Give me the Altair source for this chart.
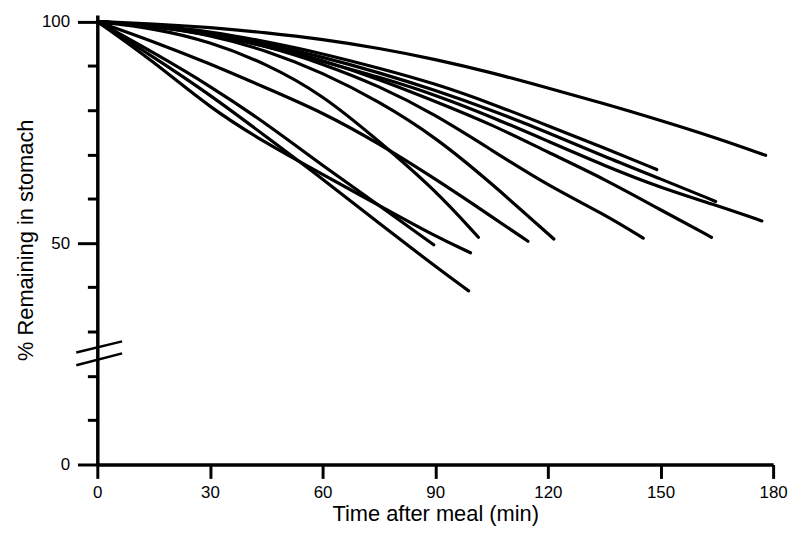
import altair as alt
import pandas as pd

# Time (min) and % remaining for each of the 12 emptying curves
t1 = [0, 15, 30, 45, 60, 75, 90, 105, 120, 135, 150, 165, 178]
v1 = [100, 99.5, 98.7, 97.5, 96, 94, 91.5, 88.5, 85, 81.5, 77.7, 73.7, 69.8]
t2 = [0, 15, 30, 45, 60, 75, 90, 105, 120, 135, 149]
v2 = [100, 99.2, 97.8, 95.5, 92.8, 89.5, 86, 81.5, 76.5, 71.5, 66.6]
t3 = [0, 15, 30, 45, 60, 75, 90, 105, 120, 135, 150, 164.7]
v3 = [100, 99, 97.3, 95, 92, 88.5, 84.5, 80, 75, 69.5, 64.5, 59.4]
t4 = [0, 15, 30, 45, 60, 75, 90, 105, 120, 135, 150, 165, 177]
v4 = [100, 99, 97, 94.5, 91, 87.5, 83.5, 78.5, 73, 67.5, 62.5, 58.5, 55]
t5 = [0, 15, 30, 45, 60, 75, 90, 105, 120, 135, 150, 163.6]
v5 = [100, 99, 97.3, 94.8, 91.3, 87, 82, 76.8, 70.5, 64.5, 57.5, 51.3]
t6 = [0, 15, 30, 45, 60, 75, 90, 105, 120, 135, 145.4]
v6 = [100, 99, 97.3, 94.5, 90.5, 85.5, 79, 71, 63, 56.5, 51.1]
t7 = [0, 15, 30, 45, 60, 75, 90, 105, 121.6]
v7 = [100, 99, 97, 93.5, 88.5, 82, 74, 63.5, 50.9]
t8 = [0, 15, 30, 45, 60, 75, 90, 105, 114.7]
v8 = [100, 95.5, 90.5, 85, 79.5, 72.5, 64.5, 56, 50.4]
t9 = [0, 15, 30, 45, 60, 75, 90, 101.5]
v9 = [100, 98.5, 95.5, 90.5, 83.5, 73, 62, 51.3]
t10 = [0, 15, 30, 45, 60, 75, 90, 99.4]
v10 = [100, 91, 80.5, 72.5, 65.5, 58.5, 51.5, 47.8]
t11 = [0, 15, 30, 45, 60, 75, 89.6]
v11 = [100, 93, 85.5, 77, 67.5, 58.5, 49.6]
t12 = [0, 15, 30, 45, 60, 75, 90, 98.9]
v12 = [100, 92, 83.5, 74, 64.5, 54.5, 44.7, 39.2]

x_ticks = [0, 30, 60, 90, 120, 150, 180]
y_ticks = [0, 10, 20, 30, 40, 50, 60, 70, 80, 90, 100]

# axis-break slashes (start/end in data units)
brk_t = [-5.6, -5.6]
brk_t2 = [6.6, 6.6]
brk_v = [25.3, 22.4]
brk_v2 = [27.8, 25.1]

series = [(t1, v1), (t2, v2), (t3, v3), (t4, v4), (t5, v5), (t6, v6),
          (t7, v7), (t8, v8), (t9, v9), (t10, v10), (t11, v11), (t12, v12)]
rows = []
for i, (ts, vs) in enumerate(series):
    for t, v in zip(ts, vs):
        rows.append({"curve": f"c{i+1}", "t": t, "v": v})
df = pd.DataFrame(rows)
brk = pd.DataFrame({"t": brk_t, "t2": brk_t2, "v": brk_v, "v2": brk_v2})

FONT = "Liberation Sans"

xscale = alt.Scale(domain=[0, 180], nice=False, zero=False)
yscale = alt.Scale(domain=[0, 101.5], nice=False, zero=False)

lines = alt.Chart(df).mark_line(
    color="black", strokeWidth=3.2, interpolate="basis", strokeCap="round", strokeJoin="round"
).encode(
    x=alt.X("t:Q", scale=xscale, axis=alt.Axis(
        values=x_ticks, title="Time after meal (min)", tickSize=14, labelFlush=False,
        labelPadding=6, titlePadding=3, labelFontSize=17, titleFontSize=22)),
    y=alt.Y("v:Q", scale=yscale, axis=alt.Axis(
        values=y_ticks, title="% Remaining in stomach",
        labelExpr="datum.value % 50 === 0 ? datum.label : ''",
        tickSize={"condition": {"test": "datum.value % 50 === 0", "value": 20}, "value": 10},
        labelPadding=8, titlePadding=4, labelFontSize=17, titleFontSize=22)),
    detail="curve:N",
)

breaks = alt.Chart(brk).mark_rule(color="black", strokeWidth=2.5).encode(
    x=alt.X("t:Q", scale=xscale),
    x2="t2:Q",
    y=alt.Y("v:Q", scale=yscale),
    y2="v2:Q",
)

chart = alt.layer(lines, breaks).properties(
    width=681, height=453,
    padding={"left": 90, "top": 5, "right": 16, "bottom": 63},
    autosize=alt.AutoSizeParams(type="none"),
).configure_view(stroke=None).configure_axis(
    grid=False, domainColor="black", domainWidth=3.5, tickColor="black", tickWidth=3,
    labelColor="black", titleColor="black", labelFont=FONT, titleFont=FONT,
    titleFontWeight="normal",
)

chart.save("out.html", embed_options={"renderer": "svg", "actions": False})
